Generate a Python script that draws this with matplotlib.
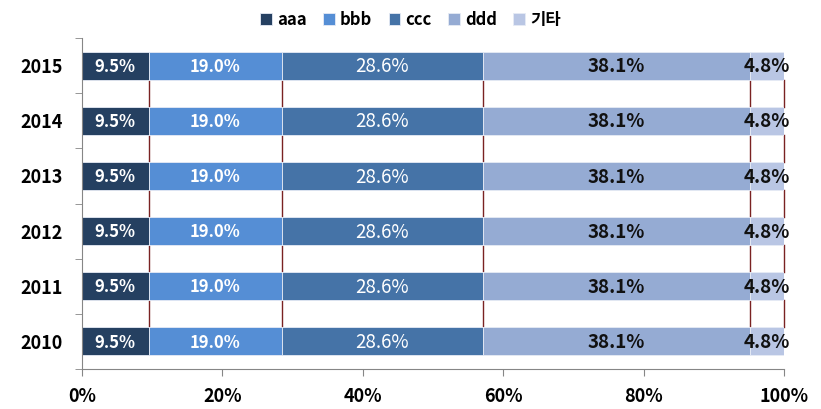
import numpy as np
import matplotlib.pyplot as plt

years = ["2010", "2011", "2012", "2013", "2014", "2015"]
series = ["aaa", "bbb", "ccc", "ddd", "기타"]
values = {
    "aaa": [9.5, 9.5, 9.5, 9.5, 9.5, 9.5],
    "bbb": [19.0, 19.0, 19.0, 19.0, 19.0, 19.0],
    "ccc": [28.6, 28.6, 28.6, 28.6, 28.6, 28.6],
    "ddd": [38.1, 38.1, 38.1, 38.1, 38.1, 38.1],
    "기타": [4.8, 4.8, 4.8, 4.8, 4.8, 4.8],
}
xticks = [0, 20, 40, 60, 80, 100]

colors = ["#254061", "#558ed5", "#4573a7", "#95abd3", "#b9c6e4"]
label_colors = ["white", "white", "white", "#111111", "#111111"]
label_weights = ["bold", "bold", "normal", "bold", "bold"]
label_sizes = [12, 12, 13.5, 13.5, 13.5]

fonts = ["Noto Sans CJK KR", "DejaVu Sans"]
plt.rcParams["font.family"] = fonts

fig = plt.figure(figsize=(8.21, 4.09), dpi=100)
ax = fig.add_axes([82 / 821, 40 / 409, 702 / 821, 331 / 409])

y = np.arange(len(years))
h = 0.51
left = np.zeros(len(years))
for i, name in enumerate(series):
    vals = np.array(values[name])
    ax.barh(y, vals, left=left, height=h, color=colors[i], label=name,
            edgecolor="#e6ebf5", linewidth=0.6, zorder=2)
    for yy, v, l in zip(y, vals, left):
        ax.text(l + v / 2, yy - 0.02, f"{v:.1f}%", ha="center", va="center",
                color=label_colors[i], fontweight=label_weights[i],
                fontsize=label_sizes[i], zorder=4)
    left = left + vals
    # series lines between bars
    for k in range(len(years) - 1):
        ax.plot([left[k], left[k + 1]], [y[k] + h / 2, y[k + 1] - h / 2],
                color="#7a2222", linewidth=1.0, zorder=1, clip_on=False)

ax.set_xlim(0, 100)
ax.set_ylim(-0.5, len(years) - 0.5)
ax.set_xticks(xticks)
ax.set_xticklabels([f"{t}%" for t in xticks], fontsize=13, fontweight="bold")
ax.set_yticks(y)
ax.set_yticklabels(years, fontsize=13, fontweight="bold")
ax.set_yticks(np.arange(-0.5, len(years)), minor=True)
ax.tick_params(axis="y", which="major", length=0, pad=14)
ax.tick_params(axis="y", which="minor", length=5, color="#868686", direction="out")
ax.tick_params(axis="x", length=5, color="#868686", direction="out", pad=8)
for s in ["top", "right"]:
    ax.spines[s].set_visible(False)
for s in ["left", "bottom"]:
    ax.spines[s].set_color("#868686")

fig.legend(loc="upper center", bbox_to_anchor=(0.5, 1.01), ncol=5, frameon=False,
           handlelength=0.7, handleheight=0.7, handletextpad=0.3, columnspacing=1.0,
           prop={"size": 12, "weight": "bold", "family": fonts})

fig.savefig("out.png", dpi=100)
